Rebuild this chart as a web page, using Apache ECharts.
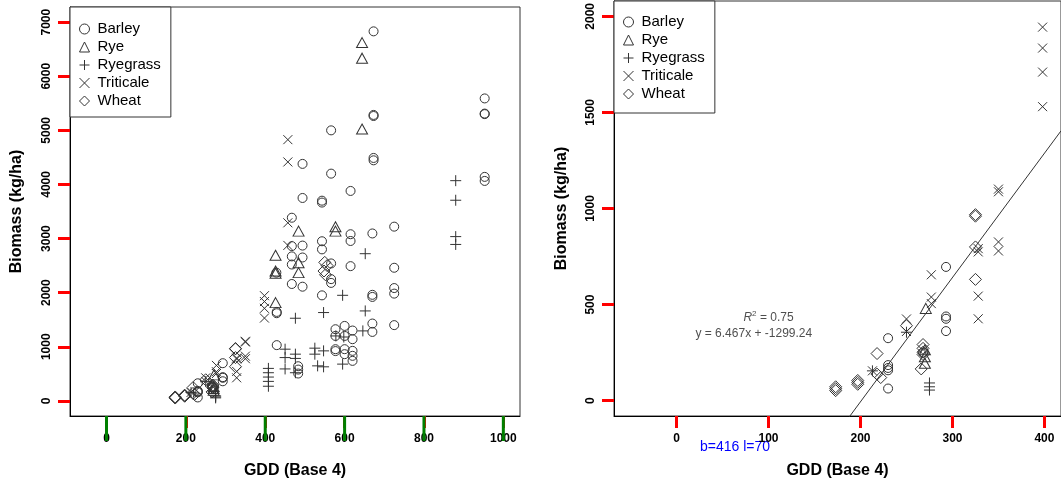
<!DOCTYPE html>
<html><head><meta charset="utf-8">
<script src="https://cdn.jsdelivr.net/npm/echarts@6/dist/echarts.min.js"></script>
<style>html,body{margin:0;padding:0;background:#fff}#c{width:1061px;height:484px}</style>
</head><body><div id="c"></div>
<script>
const speciesNames = ['Barley', 'Rye', 'Ryegrass', 'Triticale', 'Wheat'];
const barley = [[230,325],[230,185],[230,170],[230,158],[230,63],[268,250],
 [293,696],[293,438],[293,426],[293,362],
 [429,1644],[429,1620],[429,1030],[428,2370],
 [467,3385],[467,2860],[467,2670],[467,2520],[467,2160],
 [494,4380],[494,3750],[494,2870],[494,2650],[494,2110],
 [483,640],[483,578],[483,505],
 [543,3700],[543,3665],[543,2950],[543,2800],[543,1950],
 [566,5000],[566,4200],[566,2540],[566,2250],[566,2180],
 [577,1324],[577,1200],[577,955],[577,920],
 [600,1385],[600,1200],[600,955],[600,863],
 [615,3880],[615,3080],[615,2955],[615,2490],
 [620,1300],[620,1140],[620,924],[620,832],[620,739],
 [670,3094],[670,1960],[670,1921],[670,1429],[670,1274],
 [673,6830],[673,5285],[673,5265],[673,4490],[673,4446],
 [725,3220],[725,2460],[725,2085],[725,1982],[725,1400],
 [953,5590],[953,5310],[953,5300],[953,4140],[953,4065]];
const rye = [[271,480],[270,265],[270,228],[270,195],[426,2690],[426,2400],[426,2360],[426,1816],
 [484,3137],[484,2554],[484,2370],[577,3218],[577,3137],[644,6622],[644,6334],[644,5025]];
const ryegrass = [[213,155],[250,356],[275,92],[275,72],[275,55],
 [408,600],[408,520],[408,440],[408,360],[408,270],
 [450,955],[450,800],[450,590],[476,1527],[476,863],[476,784],[476,520],
 [525,974],[525,863],[532,647],[547,924],[547,629],[547,1632],
 [578,1200],[598,1180],[595,1951],[595,679],[646,1293],[652,1662],[652,2720],
 [880,4070],[880,3708],[880,3036],[880,2891]];
const triticale = [[213,155],[250,425],[250,360],[277,655],[277,539],[277,505],
 [328,791],[328,774],[328,544],[328,426],[350,1101],[350,1087],[350,826],[350,779],
 [398,1944],[398,1835],[398,1710],[398,1530],[457,4828],[457,4416],[457,3291],[457,2873]];
const wheat = [[173,72],[173,62],[173,52],[197,105],[197,95],[197,85],[218,245],[218,138],[222,120],
 [250,390],[268,292],[268,272],[268,252],[268,240],[266,165],
 [325,968],[325,960],[325,800],[325,631],[550,2560],[556,2500],[548,2400],[552,2330]];
const speciesData = [barley, rye, ryegrass, triticale, wheat];

const xTicksLeft = [0, 200, 400, 600, 800, 1000];
const yTicksLeft = [0, 1000, 2000, 3000, 4000, 5000, 6000, 7000];
const xTicksRight = [0, 100, 200, 300, 400];
const yTicksRight = [0, 500, 1000, 1500, 2000];
const xlimLeft = [-50, 1000], ylimLeft = [0, 7000];
const xlimRight = [-50, 400], ylimRight = [0, 2000];
const rightPanelMaxGDD = 400;
const fitCoef = [6.467, -1299.24];
const fitText = ['R² = 0.75', 'y = 6.467x + -1299.24'];
const fitTextPos = [[100, 430], [84, 350]];

const ink = '#333';
const symbols = ['circle', 'triangle', 'path://M0,5L10,5M5,0L5,10', 'path://M0,0L10,10M0,10L10,0', 'diamond'];
const symbolSizes = [9, [11, 10], 11, 9, [12, 12]];
const legendIcons = ['circle', 'triangle', 'path://M0,5L10,5M5,0L5,10', 'path://M0,0L10,10M0,10L10,0', 'diamond'];
const font = 'Liberation Sans, Arial, sans-serif';
const tickLen = 7;

function ext(lim) { const r = lim[1] - lim[0]; return [lim[0] - 0.04 * r, lim[1] + 0.04 * r]; }

function xAxis(gi, lim, ticks) {
  const e = ext(lim);
  return { type: 'value', gridIndex: gi, min: e[0], max: e[1],
    name: 'GDD (Base 4)', nameLocation: 'middle', nameGap: 47,
    nameTextStyle: { fontFamily: font, fontWeight: 'bold', fontSize: 16, color: '#000' },
    axisLine: { show: true, onZero: false, lineStyle: { color: '#000', width: 1 } }, splitLine: { show: false },
    axisTick: { show: true, length: 12, lineStyle: { color: 'red', width: 3 }, customValues: ticks },
    axisLabel: { fontFamily: font, fontWeight: 'bold', fontSize: 12, color: '#000', margin: 17,
      customValues: ticks, formatter: v => String(v) } };
}
function yAxis(gi, lim, ticks, gap) {
  const e = ext(lim);
  return { type: 'value', gridIndex: gi, min: e[0], max: e[1],
    name: 'Biomass (kg/ha)', nameLocation: 'middle', nameGap: gap,
    nameTextStyle: { fontFamily: font, fontWeight: 'bold', fontSize: 16, color: '#000' },
    axisLine: { show: true, onZero: false, lineStyle: { color: '#000', width: 1 } }, splitLine: { show: false },
    axisTick: { show: true, length: 12, lineStyle: { color: 'red', width: 3 }, customValues: ticks },
    axisLabel: { fontFamily: font, fontWeight: 'bold', fontSize: 12, color: '#000', margin: 17, rotate: 90,
      customValues: ticks, formatter: v => String(v) } };
}

const series = [];
[0, 1].forEach(panel => {
  speciesNames.forEach((n, i) => {
    const d = panel === 0 ? speciesData[i] : speciesData[i].filter(p => p[0] < rightPanelMaxGDD);
    series.push({ type: 'scatter', name: n, xAxisIndex: panel, yAxisIndex: panel, data: d,
      symbol: symbols[i], symbolSize: symbolSizes[i], clip: true, silent: true,
      itemStyle: { color: 'transparent', borderColor: ink, borderWidth: 1, opacity: 1 },
      emphasis: { disabled: true } });
  });
});
const e = ext(xlimRight);
series.push({ type: 'line', name: 'fit', xAxisIndex: 1, yAxisIndex: 1, clip: true, silent: true,
  symbol: 'none', lineStyle: { color: ink, width: 1 },
  data: [e[0], e[1]].map(x => [x, fitCoef[0] * x + fitCoef[1]]) });
series.push({ type: 'scatter', name: 'fitlabel', xAxisIndex: 1, yAxisIndex: 1, symbolSize: 0, silent: true,
  data: fitTextPos.map((p, i) => ({ value: p, label: { formatter: i === 0 ? '{r|R}{s|2}{a| = 0.75}' : fitText[1] } })),
  label: { show: true, position: 'inside', fontFamily: font, fontSize: 12, color: '#222',
    rich: { r: { fontFamily: font, fontSize: 12, fontStyle: 'italic', color: '#222' },
            s: { fontFamily: font, fontSize: 8, color: '#222', padding: [0, 0, 8, 0] },
            a: { fontFamily: font, fontSize: 12, color: '#222' } } } });

function legend(left, top, pad) {
  return { left: left, top: top, orient: 'vertical', itemGap: 0, itemWidth: 10, itemHeight: 10,
    backgroundColor: '#fff', borderColor: ink, borderWidth: 1, borderRadius: 0, padding: pad,
    selectedMode: false,
    textStyle: { fontFamily: font, fontSize: 15, color: '#000', lineHeight: 18, padding: [0, 0, 0, 3] },
    data: speciesNames.map((n, i) => ({ name: n, icon: legendIcons[i],
      itemStyle: { color: 'transparent', borderColor: ink, borderWidth: 1 } })) };
}

const chart = echarts.init(document.getElementById('c'));
chart.setOption({
  animation: false,
  backgroundColor: '#fff',
  grid: [
    { left: 70, top: 7, width: 450, height: 410, show: true, borderColor: ink, borderWidth: 1 },
    { left: 614, top: 1, width: 450, height: 416, show: true, borderColor: ink, borderWidth: 1 }
  ],
  xAxis: [xAxis(0, xlimLeft, xTicksLeft), xAxis(1, xlimRight, xTicksRight)],
  yAxis: [yAxis(0, ylimLeft, yTicksLeft, 45), yAxis(1, ylimRight, yTicksRight, 44)],
  legend: [legend(70, 7, [13, 10, 7, 9]), legend(614, 1, [12, 10, 10, 9])],
  series: series
});

let msg = 'ok';
try {
  const g = [];
  const bottom = chart.convertToPixel({ yAxisIndex: 0 }, -280);
  const leftPx = chart.convertToPixel({ xAxisIndex: 0 }, -92);
  msg = 'b=' + bottom + ' l=' + leftPx;
  xTicksLeft.forEach(v => {
    const x = chart.convertToPixel({ xAxisIndex: 0 }, v);
    g.push({ type: 'line', z: 100, shape: { x1: x, y1: bottom, x2: x, y2: bottom + 25 }, style: { stroke: 'green', lineWidth: 3 } });
  });
  g.push({ type: 'text', left: 700, top: 440, style: { text: msg, fill: 'blue', font: '14px sans-serif' } });
  chart.setOption({ graphic: g });
} catch (err) {
  chart.setOption({ graphic: [{ type: 'text', left: 700, top: 440, style: { text: 'ERR ' + err.message, fill: 'blue', font: '14px sans-serif' } }] });
}
</script></body></html>
